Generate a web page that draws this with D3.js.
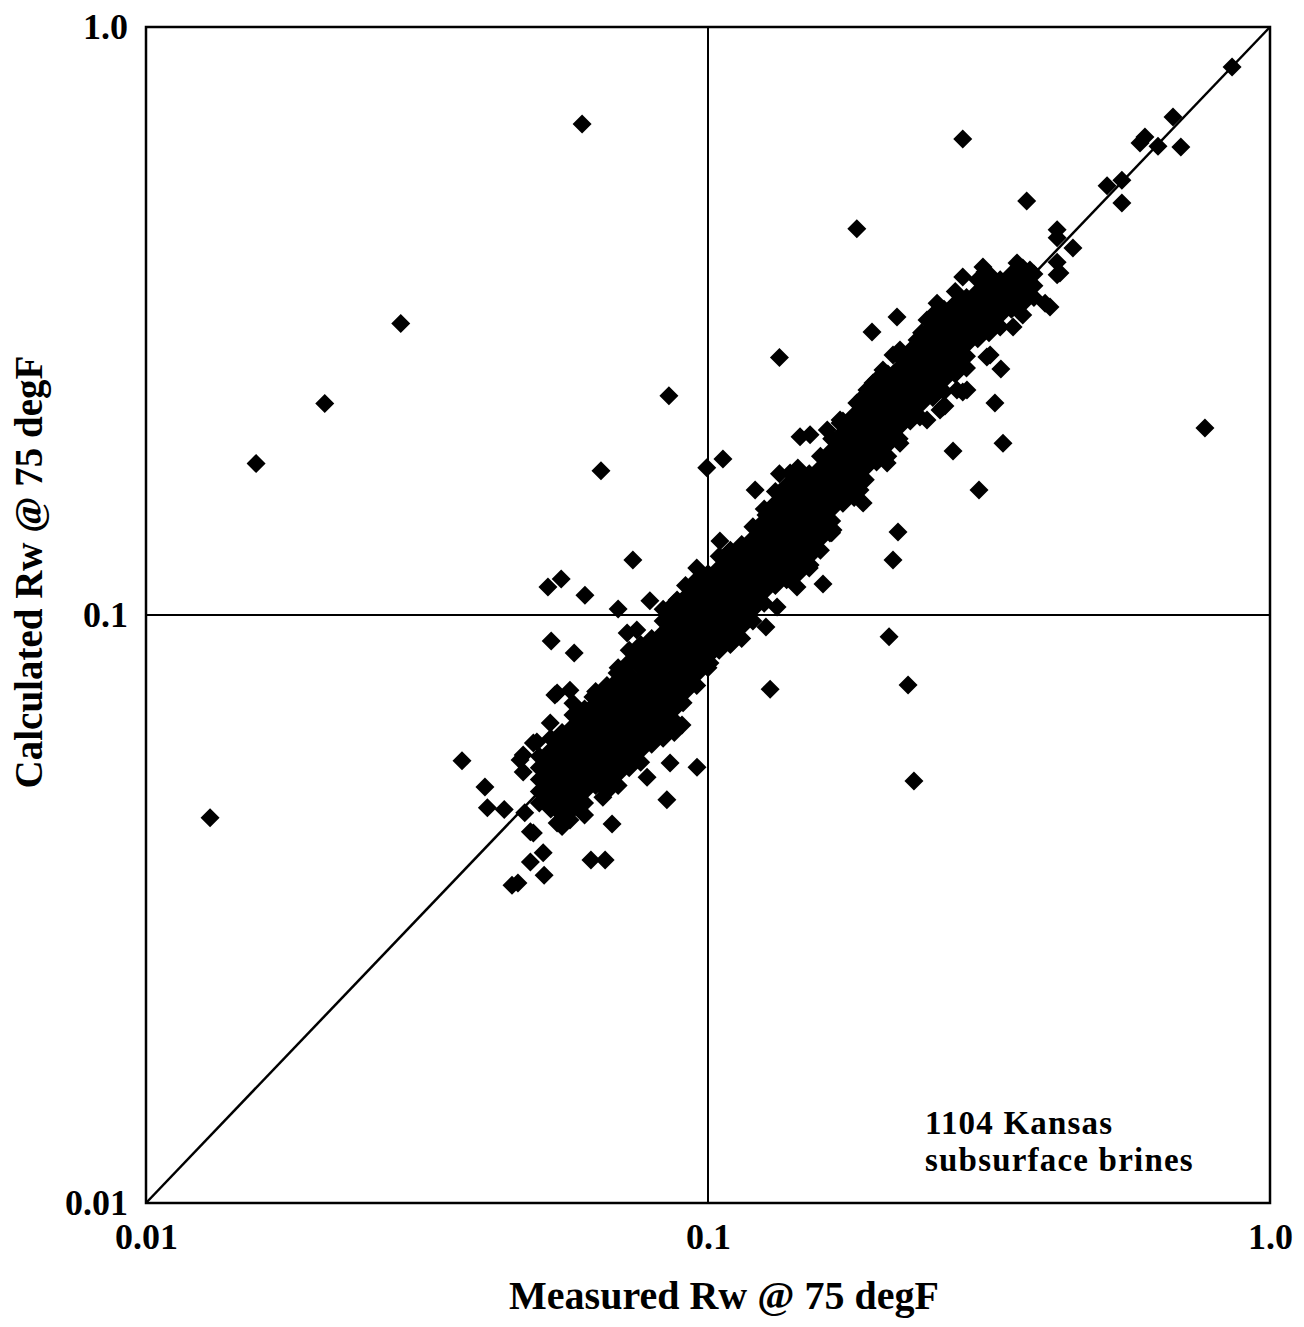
<!DOCTYPE html>
<html>
<head>
<meta charset="utf-8">
<script src="https://cdn.jsdelivr.net/npm/d3@7"></script>
<style>html,body{margin:0;padding:0;background:#fff;}</style>
</head>
<body>
<svg id="chart" width="1304" height="1327"></svg>
<script>
// ---------------- data ----------------
const tickValues = [0.01, 0.1, 1];
const tickLabels = ["0.01", "0.1", "1.0"];
const xTitle = "Measured Rw @ 75 degF";
const yTitle = "Calculated Rw @ 75 degF";
const noteLines = ["1104 Kansas", "subsurface brines"];
const identityLine = [0.01, 1];
const gridValues = [0.1];

// dense core of the cloud: one measured value per column, calculated values in that column
const bandMeasured = [0.0501,0.0525,0.0550,0.0575,0.0603,0.0631,0.0661,0.0692,0.0724,0.0759,
  0.0794,0.0832,0.0871,0.0912,0.0955,0.100,0.1047,0.1096,0.1148,0.1202,
  0.1259,0.1318,0.1380,0.1445,0.1514,0.1585,0.1660,0.1738,0.1820,0.1905,
  0.1995,0.2089,0.2188,0.2291,0.2399,0.2512,0.2630,0.2754,0.2884,0.3020,
  0.3162,0.3311,0.3467,0.3631,0.3802];
const bandCalculated = [
  [0.0479,0.0501,0.0525,0.0550,0.0575],
  [0.0468,0.0490,0.0513,0.0537,0.0562,0.0589,0.0617],
  [0.0437,0.0457,0.0479,0.0501,0.0525,0.0550,0.0575,0.0603,0.0631],
  [0.0468,0.0490,0.0513,0.0537,0.0562,0.0589,0.0617,0.0646,0.0676,0.0708],
  [0.0457,0.0479,0.0501,0.0525,0.0550,0.0575,0.0603,0.0631,0.0661,0.0692],
  [0.0513,0.0537,0.0562,0.0589,0.0617,0.0646,0.0676,0.0708,0.0741],
  [0.0501,0.0525,0.0550,0.0575,0.0603,0.0631,0.0661,0.0692,0.0724,0.0759],
  [0.0513,0.0537,0.0562,0.0589,0.0617,0.0646,0.0676,0.0708,0.0741,0.0776,0.0813],
  [0.0550,0.0575,0.0603,0.0631,0.0661,0.0692,0.0724,0.0759,0.0794,0.0832,0.0871],
  [0.0562,0.0589,0.0617,0.0646,0.0676,0.0708,0.0741,0.0776,0.0813,0.0851,0.0891],
  [0.0603,0.0631,0.0661,0.0692,0.0724,0.0759,0.0794,0.0832,0.0871,0.0912],
  [0.0617,0.0646,0.0676,0.0708,0.0741,0.0776,0.0813,0.0851,0.0891,0.0933,0.0977,0.1023],
  [0.0631,0.0661,0.0692,0.0724,0.0759,0.0794,0.0832,0.0871,0.0912,0.0955,0.100,0.1047],
  [0.0741,0.0776,0.0813,0.0851,0.0891,0.0933,0.0977,0.1023,0.1072,0.1122],
  [0.0759,0.0794,0.0832,0.0871,0.0912,0.0955,0.100,0.1047,0.1096,0.1148,0.1202],
  [0.0813,0.0851,0.0891,0.0933,0.0977,0.1023,0.1072,0.1122,0.1175],
  [0.0871,0.0912,0.0955,0.100,0.1047,0.1096,0.1148,0.1202,0.1259],
  [0.0891,0.0933,0.0977,0.1023,0.1072,0.1122,0.1175,0.1230,0.1288],
  [0.0912,0.0955,0.100,0.1047,0.1096,0.1148,0.1202,0.1259,0.1318],
  [0.0977,0.1023,0.1072,0.1122,0.1175,0.1230,0.1288,0.1349,0.1413],
  [0.1047,0.1096,0.1148,0.1202,0.1259,0.1318,0.1380,0.1445,0.1514],
  [0.1122,0.1175,0.1230,0.1288,0.1349,0.1413,0.1479,0.1549,0.1622],
  [0.1148,0.1202,0.1259,0.1318,0.1380,0.1445,0.1514,0.1585,0.1660],
  [0.1175,0.1230,0.1288,0.1349,0.1413,0.1479,0.1549,0.1622,0.1698,0.1778],
  [0.1202,0.1259,0.1318,0.1380,0.1445,0.1514,0.1585,0.1660,0.1738],
  [0.1288,0.1349,0.1413,0.1479,0.1549,0.1622,0.1698,0.1778,0.1862],
  [0.1380,0.1445,0.1514,0.1585,0.1660,0.1738,0.1820,0.1905,0.1995],
  [0.1549,0.1622,0.1698,0.1778,0.1862,0.1950,0.2042,0.2138],
  [0.1585,0.1660,0.1738,0.1820,0.1905,0.1995,0.2089,0.2188],
  [0.1698,0.1778,0.1862,0.1950,0.2042,0.2138,0.2239,0.2344],
  [0.1820,0.1905,0.1995,0.2089,0.2188,0.2291,0.2399,0.2512],
  [0.1862,0.1950,0.2042,0.2138,0.2239,0.2344,0.2455,0.2570],
  [0.1995,0.2089,0.2188,0.2291,0.2399,0.2512,0.2630,0.2754],
  [0.2138,0.2239,0.2344,0.2455,0.2570,0.2692,0.2818],
  [0.2291,0.2399,0.2512,0.2630,0.2754,0.2884,0.3020],
  [0.2344,0.2455,0.2570,0.2692,0.2818,0.2951,0.3090,0.3236],
  [0.2399,0.2512,0.2630,0.2754,0.2884,0.3020,0.3162,0.3311],
  [0.2570,0.2692,0.2818,0.2951,0.3090,0.3236,0.3388,0.3548],
  [0.2630,0.2754,0.2884,0.3020,0.3162,0.3311,0.3467],
  [0.2951,0.3090,0.3236,0.3388,0.3548,0.3715],
  [0.3020,0.3162,0.3311,0.3467,0.3631,0.3802],
  [0.3090,0.3236,0.3388,0.3548,0.3715],
  [0.3311,0.3467,0.3631,0.3802],
  [0.3236,0.3388,0.3548,0.3715,0.3890],
  [0.3467,0.3631,0.3802]
];

// isolated samples and the ragged edges of the cloud: [measured, calculated]
const outlierPoints = [
  [0.0130,0.0452],[0.0157,0.181],[0.0208,0.229],[0.0284,0.313],[0.0597,0.684],
  [0.0852,0.236],[0.0645,0.176],[0.0365,0.0565],[0.284,0.645],[0.184,0.454],
  [0.369,0.506],[0.766,0.208],[0.856,0.855],[0.134,0.274],[0.210,0.0918],
  [0.227,0.0760],[0.2325,0.0522],[0.129,0.0748],[0.0956,0.0551],[0.0845,0.0485],
  [0.0619,0.0383],[0.0656,0.0383],[0.0448,0.0347],[0.0459,0.0350],[0.0511,0.0361],
  [0.0401,0.0510],[0.0405,0.0470],[0.0434,0.0467],[0.0519,0.1116],[0.0548,0.1151],
  [0.0735,0.124],[0.0604,0.108],[0.0692,0.1024],[0.0788,0.1057],[0.0526,0.0903],
  [0.0578,0.0862],[0.0675,0.0441],[0.0899,0.0650],[0.0483,0.0380],[0.0483,0.0428]
];
const upperRangePoints = [
  [0.1063,0.1842],[0.0995,0.178],[0.134,0.1738],[0.1213,0.1632],[0.1458,0.2009],
  [0.1519,0.2025],[0.1268,0.148],[0.105,0.1336],[0.1108,0.1255],[0.2729,0.190],
  [0.3035,0.1632],[0.3349,0.196],[0.324,0.2293],[0.332,0.262],[0.264,0.2266],
  [0.284,0.2395],[0.2178,0.1384],[0.2134,0.124],[0.1602,0.1129],[0.1268,0.0954],
  [0.1103,0.0899],[0.3177,0.2768],[0.2134,0.2768],[0.1958,0.303],[0.1519,0.1216],
  [0.1648,0.1379],[0.1888,0.155],[0.1154,0.128],[0.672,0.703],[0.599,0.650],
  [0.587,0.635],[0.632,0.627],[0.694,0.625],[0.513,0.537],[0.545,0.549],
  [0.545,0.502],[0.418,0.452],[0.418,0.438],[0.446,0.421],[0.418,0.398],
  [0.418,0.379],[0.398,0.339],[0.311,0.383]
];
const edgePoints = [
  [0.0469,0.0541],[0.0469,0.0578],[0.0496,0.0608],[0.0524,0.0655],[0.0534,0.0731],
  [0.0472,0.0461],[0.0489,0.0426],[0.0509,0.0394],[0.0779,0.0530],[0.0856,0.0560],
  [0.0811,0.0637],[0.0903,0.0709],[0.1008,0.0829],[0.0650,0.0490],[0.0568,0.0448],
  [0.0539,0.0443],[0.0689,0.0797],[0.0655,0.0737],[0.0624,0.0725],[0.0568,0.0745],
  [0.0539,0.0737],[0.0747,0.0943],[0.0718,0.0932],[0.0821,0.0896],[0.0881,0.106],
  [0.0463,0.0567],[0.0489,0.0606],
  [0.140,0.1744],[0.163,0.2064],[0.1718,0.2146],[0.184,0.2293],[0.1918,0.2413],
  [0.2048,0.261],[0.2196,0.2823],[0.2355,0.2935],[0.2169,0.3212],[0.2453,0.3174],
  [0.2383,0.290],[0.1966,0.248],[0.1888,0.2348],[0.1718,0.212],[0.1327,0.1032],
  [0.144,0.1116],[0.1669,0.1395],[0.1864,0.1632],[0.2083,0.1813],[0.2196,0.196],
  [0.2453,0.2146],[0.2587,0.2232],[0.2889,0.2413],[0.3135,0.2747],[0.349,0.309],
  [0.406,0.334],[0.4229,0.3817],[0.2618,0.2258],[0.2383,0.2172],[0.2773,0.2413],
  [0.284,0.3757],[0.3085,0.3907],[0.3547,0.397],[0.374,0.386],[0.2556,0.339]
];

// ---------------- drawing ----------------
const W = 1304, H = 1327;
const margin = {left: 146, right: 34, top: 27, bottom: 124};
const FONT = "'Liberation Serif', 'Times New Roman', serif";

const svg = d3.select("#chart");
svg.append("rect").attr("width", W).attr("height", H).attr("fill", "#fff");

const x = d3.scaleLog().domain([0.01, 1]).range([margin.left, W - margin.right]);
const y = d3.scaleLog().domain([0.01, 1]).range([H - margin.bottom, margin.top]);

// gridlines at 0.1
svg.append("g").selectAll("line").data(gridValues).join("line")
  .attr("x1", d => x(d)).attr("x2", d => x(d))
  .attr("y1", y(1)).attr("y2", y(0.01))
  .attr("stroke", "#000").attr("stroke-width", 2);
svg.append("g").selectAll("line").data(gridValues).join("line")
  .attr("y1", d => y(d)).attr("y2", d => y(d))
  .attr("x1", x(0.01)).attr("x2", x(1))
  .attr("stroke", "#000").attr("stroke-width", 2);

// 1:1 line
svg.append("path")
  .datum(identityLine)
  .attr("d", d3.line().x(d => x(d)).y(d => y(d)))
  .attr("stroke", "#000").attr("stroke-width", 2.5).attr("fill", "none");

// frame
svg.append("rect")
  .attr("x", x(0.01)).attr("y", y(1))
  .attr("width", x(1) - x(0.01)).attr("height", y(0.01) - y(1))
  .attr("fill", "none").attr("stroke", "#000").attr("stroke-width", 2.5);

// points
const bandPoints = bandMeasured.flatMap((m, i) => bandCalculated[i].map(c => [m, c]));
const allPoints = bandPoints.concat(outlierPoints, upperRangePoints, edgePoints);
const R = 9.5;
const diamond = `M0,${-R}L${R},0L0,${R}L${-R},0Z`;
svg.append("g").selectAll("path").data(allPoints).join("path")
  .attr("d", diamond)
  .attr("transform", d => `translate(${x(d[0])},${y(d[1])})`)
  .attr("fill", "#000");

// axes
const fmt = d => tickLabels[tickValues.indexOf(d)];
const gx = svg.append("g")
  .attr("transform", `translate(0,${y(0.01)})`)
  .call(d3.axisBottom(x).tickValues(tickValues).tickFormat(fmt).tickSize(0).tickPadding(20));
const gy = svg.append("g")
  .attr("transform", `translate(${x(0.01)},0)`)
  .call(d3.axisLeft(y).tickValues(tickValues).tickFormat(fmt).tickSize(0).tickPadding(18));
[gx, gy].forEach(g => {
  g.select(".domain").remove();
  g.attr("font-family", FONT).attr("font-size", 36).attr("font-weight", "bold");
  g.selectAll("text").attr("fill", "#000");
});

// axis titles
svg.append("text")
  .attr("x", 724).attr("y", 1309)
  .attr("text-anchor", "middle")
  .attr("font-family", FONT).attr("font-size", 40).attr("font-weight", "bold")
  .text(xTitle);
svg.append("text")
  .attr("transform", "translate(42,572) rotate(-90)")
  .attr("text-anchor", "middle")
  .attr("font-family", FONT).attr("font-size", 39).attr("font-weight", "bold")
  .text(yTitle);

// annotation
svg.append("g").selectAll("text").data(noteLines).join("text")
  .attr("x", 925).attr("y", (d, i) => 1134 + i * 37)
  .attr("font-family", FONT).attr("font-size", 33).attr("font-weight", "bold")
  .attr("letter-spacing", 1.2)
  .text(d => d);
</script>
</body>
</html>
